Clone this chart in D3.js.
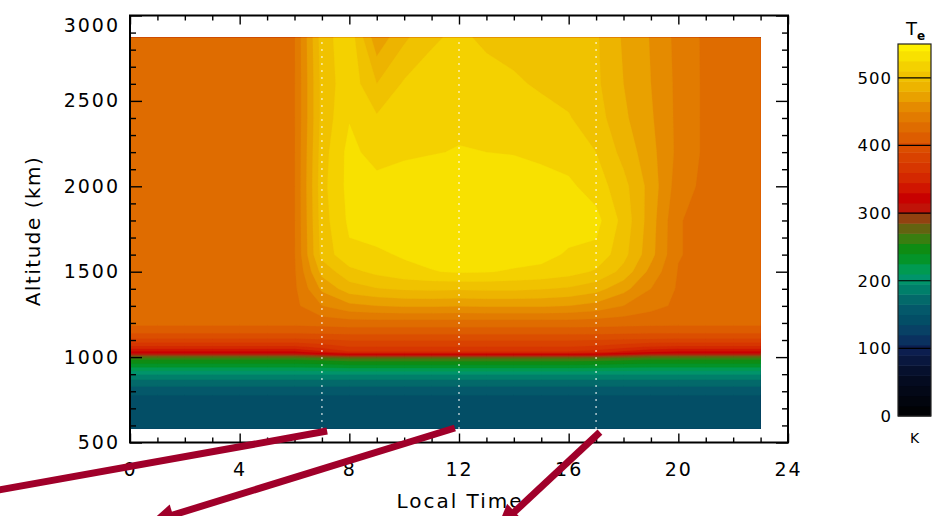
<!DOCTYPE html>
<html>
<head>
<meta charset="utf-8">
<script src="https://cdn.jsdelivr.net/npm/d3@7"></script>
<style>
body { margin: 0; background: #fff; }
svg { display: block; }
text { font-family: "DejaVu Sans", sans-serif; fill: #000; }
</style>
</head>
<body>
<svg id="chart" width="934" height="516"></svg>
<script>
// grid of the Te table: hours of local time, altitudes in km
var localTime = [0,1,2,3,4,5,6,7,8,9,10,11,12,13,14,15,16,17,18,19,20,21,22,23];
var altitude = [580,760,800,850,900,950,990,1010,1030,1060,1100,1150,1200,1300,1400,1500,1600,1800,2000,2200,2400,2600,2870];

// electron temperature (K), one row per altitude, one value per hour
var teRows = [
  [143,143,143,143,143,143,143,143,143,143,143,143,143,143,143,143,143,143,143,143,143,143,143,143],
  [146,146,146,146,146,146,146,146,146,146,146,146,146,146,146,146,146,146,146,146,146,146,146,146],
  [156,156,156,156,156,156,156,156,156,156,156,156,156,156,156,156,156,156,156,156,156,156,156,156],
  [172,172,172,172,172,172,172,172,172,172,172,172,172,172,172,172,172,172,172,172,172,172,172,172],
  [196,196,196,196,196,196,196,196,196,196,196,196,196,196,196,196,196,196,196,196,196,196,196,196],
  [232,232,232,232,232,232,232,233,236,236,236,236,236,236,236,236,236,235,233,232,232,232,232,232],
  [258,258,258,258,258,258,258,261,265,265,265,265,265,265,265,265,265,264,261,258,258,258,258,258],
  [290,290,290,290,290,290,290,297,305,305,305,305,305,305,305,305,305,303,297,290,290,290,290,290],
  [325,325,325,325,325,325,325,340,358,358,358,358,358,358,358,358,358,352,340,330,325,325,325,325],
  [356,356,356,356,356,356,356,365,375,375,375,375,375,375,375,375,375,372,365,358,356,356,356,356],
  [386,386,386,386,386,386,386,388,391,391,391,391,391,391,391,391,391,390,388,387,386,386,386,386],
  [410,410,410,410,410,410,410,411,412,412,412,412,412,412,412,412,412,412,411,410,410,410,410,410],
  [424,424,424,424,424,424,424,426,428,428,428,428,428,428,428,428,428,427,426,425,424,424,424,424],
  [430,430,430,430,430,430,431,450,461,465,467,467,466,467,467,467,465,460,450,440,432,430,430,430],
  [430,430,430,430,430,430,432,468,488,494,497,498,497,498,498,496,493,486,470,450,433,430,430,430],
  [430,430,430,430,430,430,433,485,505,514,520,524,527,526,523,521,516,508,490,460,434,430,430,430],
  [430,430,430,430,430,430,434,500,522,522,527,531,534,534,533,530,523,521,500,470,436,430,430,430],
  [430,430,430,430,430,430,434,503,528,535,538,539,539,539,538,536,533,530,505,472,436,430,430,430],
  [430,430,430,430,430,430,434,505,530,531,534,536,537,537,535,532,528,518,500,474,442,431,430,430],
  [430,430,430,430,430,430,434,503,530,518,522,524,526,525,524,521,518,510,490,470,446,432,430,430],
  [430,430,430,430,430,430,434,500,524,512,517,520,521,520,518,515,511,502,483,467,446,432,430,430],
  [430,430,430,430,430,430,434,500,520,495,512,516,518,516,512,508,505,498,480,465,446,432,430,430],
  [430,430,430,430,430,430,434,503,520,470,492,508,513,507,505,504,503,497,478,464,445,432,430,430]
];

// dotted local-time markers
var markTimes = [7, 12, 17];

// tick labels
var altTicks = [500,1000,1500,2000,2500,3000];
var timeTicks = [0,4,8,12,16,20,24];
var cbTicks = [0,100,200,300,400,500];

// colour table (K -> colour), like the IDL palette
var stopValues = [0,60,100,115,130,142,158,172,188,203,218,233,248,263,278,292,307,322,337,352,367,382,397,412,427,442,457,472,487,502,517,532,550];
var stopColors = ["#000000","#050c24","#0c1f52","#0a3462","#074466","#034e66","#04586a","#03686a","#00806a","#00956a","#009a50","#049428","#0e8c12","#3a7e10","#646210","#904410","#c01408","#c80000","#d01400","#d42800","#d73600","#d94200","#db4e00","#dd5c00","#df6b00","#e27a00","#e58a00","#e9a000","#edb400","#f0c200","#f4d000","#f8e000","#fff200"];

// arrows drawn below the plot (data units: hours, km)
var arrowFrom = [[7.19, 567], [11.85, 585], [17.14, 561]];
var arrowTo = [[-6.2, 181], [0.73, 34], [13.39, -1]];

var levelStep = 15;
var levels = d3.range(0, 550, levelStep);

var svg = d3.select("#chart");

var x = d3.scaleLinear().domain([0, 24]).range([130, 788]);
var y = d3.scaleLinear().domain([500, 3000]).range([442.5, 15.5]);
var color = d3.scaleLinear().domain(stopValues).range(stopColors);

// grid index -> data value (d3.contours puts sample i at i+0.5)
var gx = d3.scaleLinear().domain([0.5, localTime.length - 0.5]).range([localTime[0], localTime[localTime.length - 1]]);
var gy = d3.scaleLinear().domain(altitude.map(function(d, i){ return i + 0.5; })).range(altitude);

var values = [];
teRows.forEach(function(row){ values = values.concat(row); });

var contours = d3.contours()
    .size([localTime.length, altitude.length])
    .thresholds(levels)(values);

var proj = d3.geoTransform({
    point: function(px, py){ this.stream.point(x(gx(px)), y(gy(py))); }
});
var path = d3.geoPath(proj);

svg.append("clipPath").attr("id", "dataClip")
  .append("rect")
    .attr("x", x(localTime[0]))
    .attr("y", y(altitude[altitude.length - 1]))
    .attr("width", x(localTime[localTime.length - 1]) - x(localTime[0]))
    .attr("height", y(altitude[0]) - y(altitude[altitude.length - 1]));

svg.append("g")
    .attr("clip-path", "url(#dataClip)")
  .selectAll("path")
  .data(contours)
  .enter().append("path")
    .attr("d", path)
    .attr("fill", function(d){ return color(d.value + levelStep / 2); })
    .attr("stroke", function(d){ return color(d.value + levelStep / 2); })
    .attr("stroke-width", 0.3);

// dotted verticals
svg.append("g").selectAll("line")
  .data(markTimes)
  .enter().append("line")
    .attr("x1", function(d){ return x(d); })
    .attr("x2", function(d){ return x(d); })
    .attr("y1", y(altitude[0]))
    .attr("y2", y(altitude[altitude.length - 1]))
    .attr("stroke", "#fff")
    .attr("stroke-opacity", 0.85)
    .attr("stroke-width", 1.6)
    .attr("stroke-dasharray", "1.6,5.4");

// axes, ticks pointing inward
function minor(list, step, lo, hi){
    var out = [];
    for (var v = lo; v <= hi; v += step) if (list.indexOf(v) < 0) out.push(v);
    return out;
}
var altMinor = minor(altTicks, 100, 500, 3000);
var timeMinor = minor(timeTicks, 1, 0, 24);

function styleAxis(g, labels){
    g.select(".domain").remove();
    g.selectAll(".tick line").attr("stroke", "#000").attr("stroke-width", 1.4);
    if (labels) {
        g.selectAll(".tick text")
            .style("font-size", "19px")
            .style("letter-spacing", "2px")
            .attr("fill", "#000");
    } else {
        g.selectAll(".tick text").remove();
    }
}

var leftAxis = svg.append("g").attr("transform", "translate(130,0)")
    .call(d3.axisLeft(y).tickValues(altTicks).tickFormat(d3.format("d")).tickSize(-12).tickPadding(10))
    .call(styleAxis, true);
// the top label sits a bit below its tick, as in the original
leftAxis.selectAll(".tick text").filter(function(d){ return d === 3000; }).attr("dy", "0.85em");

svg.append("g").attr("transform", "translate(130,0)")
    .call(d3.axisLeft(y).tickValues(altMinor).tickSize(-6))
    .call(styleAxis, false);
svg.append("g").attr("transform", "translate(788,0)")
    .call(d3.axisRight(y).tickValues(altTicks).tickSize(-12))
    .call(styleAxis, false);
svg.append("g").attr("transform", "translate(788,0)")
    .call(d3.axisRight(y).tickValues(altMinor).tickSize(-6))
    .call(styleAxis, false);

svg.append("g").attr("transform", "translate(0,442.5)")
    .call(d3.axisBottom(x).tickValues(timeTicks).tickFormat(d3.format("d")).tickSize(-9).tickPadding(20))
    .call(styleAxis, true);
svg.append("g").attr("transform", "translate(0,442.5)")
    .call(d3.axisBottom(x).tickValues(timeMinor).tickSize(-5))
    .call(styleAxis, false);
svg.append("g").attr("transform", "translate(0,15.5)")
    .call(d3.axisTop(x).tickValues(timeTicks).tickSize(-9))
    .call(styleAxis, false);
svg.append("g").attr("transform", "translate(0,15.5)")
    .call(d3.axisTop(x).tickValues(timeMinor).tickSize(-5))
    .call(styleAxis, false);

svg.append("rect")
    .attr("x", x(0)).attr("y", y(3000))
    .attr("width", x(24) - x(0)).attr("height", y(500) - y(3000))
    .attr("fill", "none").attr("stroke", "#000").attr("stroke-width", 2);

svg.append("text")
    .attr("x", 460).attr("y", 508)
    .attr("text-anchor", "middle")
    .style("font-size", "20px").style("letter-spacing", "2px")
    .text("Local Time");

svg.append("text")
    .attr("transform", "translate(40,231) rotate(-90)")
    .attr("text-anchor", "middle")
    .style("font-size", "20px").style("letter-spacing", "1.5px")
    .text("Altitude (km)");

// colour bar
var cy = d3.scaleLinear().domain([0, 550]).range([416, 44]);
var cbar = svg.append("g");
cbar.selectAll("rect")
  .data(levels)
  .enter().append("rect")
    .attr("x", 898).attr("width", 33)
    .attr("y", function(d){ return cy(Math.min(d + levelStep, 550)); })
    .attr("height", function(d){ return cy(d) - cy(Math.min(d + levelStep, 550)) + 0.5; })
    .attr("fill", function(d){ return color(d + levelStep / 2); });
cbar.selectAll("line")
  .data(cbTicks.slice(1))
  .enter().append("line")
    .attr("x1", 898).attr("x2", 931)
    .attr("y1", function(d){ return cy(d); })
    .attr("y2", function(d){ return cy(d); })
    .attr("stroke", "#000").attr("stroke-width", 1.2);
cbar.append("rect")
    .attr("x", 898).attr("y", cy(550))
    .attr("width", 33).attr("height", cy(0) - cy(550))
    .attr("fill", "none").attr("stroke", "#222").attr("stroke-width", 1.2);
cbar.selectAll("text.cb")
  .data(cbTicks)
  .enter().append("text")
    .attr("class", "cb")
    .attr("x", 892)
    .attr("y", function(d){ return cy(d); })
    .attr("dy", "0.36em")
    .attr("text-anchor", "end")
    .style("font-size", "16.5px").style("letter-spacing", "1px")
    .text(function(d){ return d; });

var te = cbar.append("text").attr("x", 906).attr("y", 35).style("font-size", "18px");
te.append("tspan").text("T");
te.append("tspan").attr("dy", 5).style("font-size", "12px").style("font-weight", "bold").text("e");

cbar.append("text")
    .attr("x", 914.5).attr("y", 443)
    .attr("text-anchor", "middle")
    .style("font-size", "14px")
    .text("K");

// arrows
var arrowColor = "#a0002a";
var ag = svg.append("g");
arrowFrom.forEach(function(a, i){
    var x0 = x(a[0]), y0 = y(a[1]);
    var x1 = x(arrowTo[i][0]), y1 = y(arrowTo[i][1]);
    var dx = x1 - x0, dy = y1 - y0, len = Math.sqrt(dx * dx + dy * dy);
    var ux = dx / len, uy = dy / len;
    var head = 24, half = 11;
    var bx = x1 - ux * head, by = y1 - uy * head;
    ag.append("line")
        .attr("x1", x0).attr("y1", y0)
        .attr("x2", bx + ux * 2).attr("y2", by + uy * 2)
        .attr("stroke", arrowColor).attr("stroke-width", 7);
    ag.append("path")
        .attr("d", "M" + x1 + "," + y1 +
                   "L" + (bx - uy * half) + "," + (by + ux * half) +
                   "L" + (bx + uy * half) + "," + (by - ux * half) + "Z")
        .attr("fill", arrowColor);
});
</script>
</body>
</html>
